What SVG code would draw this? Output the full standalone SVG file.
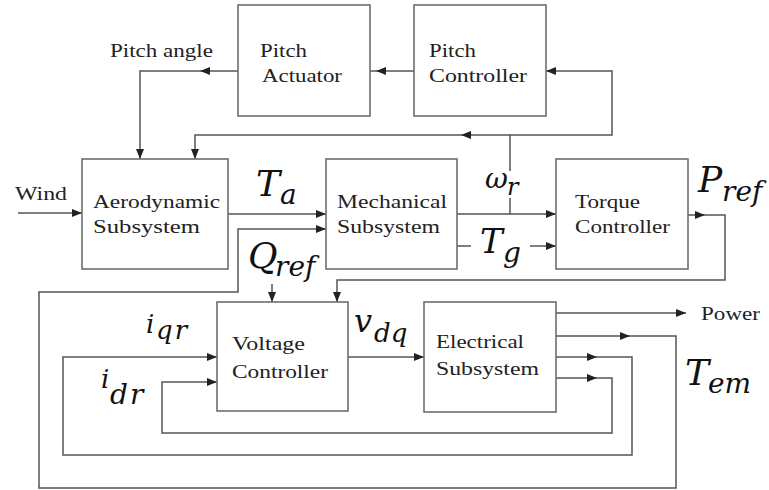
<svg xmlns="http://www.w3.org/2000/svg" xmlns:xlink="http://www.w3.org/1999/xlink" width="769" height="490" viewBox="0 0 769 490">
<style>
.box{fill:#fff;stroke:#6e6e6e;stroke-width:1.6}
.ln{fill:none;stroke:#555;stroke-width:1.5}
.lbl{font-family:"Liberation Serif","Times New Roman",serif;font-size:19px;fill:#222}
.math{font-family:"DejaVu Serif",serif;font-style:italic;fill:#111}
.ah{fill:#222}
</style>
<defs>
<marker id="arr" markerWidth="10" markerHeight="8" refX="10" refY="4" orient="auto" markerUnits="userSpaceOnUse"><path d="M0,0 L10,4 L0,8 Z" fill="#222"/></marker>
<path id="ah" d="M0,0 L-10,-4 L-10,4 Z"/>
</defs>
<rect width="769" height="490" fill="#fff"/>

<g id="connectors">
<path class="ln" d="M414,71 H370"/>
<path class="ln" d="M238,71 H140 V159" marker-end="url(#arr)"/>
<path class="ln" d="M510,214 V198"/>
<path class="ln" d="M510,171 V135 H612 V71 H546" marker-end="url(#arr)"/>
<path class="ln" d="M510,135 H195 V159" marker-end="url(#arr)"/>
<path class="ln" d="M18,213 H82" marker-end="url(#arr)"/>
<path class="ln" d="M228,214 H326" marker-end="url(#arr)"/>
<path class="ln" d="M457,214 H556" marker-end="url(#arr)"/>
<path class="ln" d="M457,246 H471"/>
<path class="ln" d="M530,246 H556" marker-end="url(#arr)"/>
<path class="ln" d="M688,215 H725 V280 H337 V302" marker-end="url(#arr)"/>
<path class="ln" d="M272,284 V302" marker-end="url(#arr)"/>
<path class="ln" d="M556,336 H676 V488 H39 V292 H238 V229 H326" marker-end="url(#arr)"/>
<path class="ln" d="M556,313 H686" marker-end="url(#arr)"/>
<path class="ln" d="M348,357 H424" marker-end="url(#arr)"/>
<path class="ln" d="M556,357 H632 V455 H63 V357 H217" marker-end="url(#arr)"/>
<path class="ln" d="M556,378 H612 V433 H162 V382 H217" marker-end="url(#arr)"/>
<use xlink:href="#ah" class="ah" transform="translate(376,71) rotate(180)"/>
<use xlink:href="#ah" class="ah" transform="translate(200,71) rotate(180)"/>
<use xlink:href="#ah" class="ah" transform="translate(461,135) rotate(180)"/>
<use xlink:href="#ah" class="ah" transform="translate(705,215)"/>
<use xlink:href="#ah" class="ah" transform="translate(630,336)"/>
<use xlink:href="#ah" class="ah" transform="translate(597,357)"/>
<use xlink:href="#ah" class="ah" transform="translate(597,378)"/>
</g>

<g id="pitch-actuator">
<rect class="box" x="238" y="5" width="132" height="111"/>
<text class="lbl" x="260" y="57" textLength="47" lengthAdjust="spacingAndGlyphs">Pitch</text>
<text class="lbl" x="262" y="82" textLength="80" lengthAdjust="spacingAndGlyphs">Actuator</text>
</g>
<g id="pitch-controller">
<rect class="box" x="414" y="5" width="132" height="111"/>
<text class="lbl" x="429" y="57" textLength="47" lengthAdjust="spacingAndGlyphs">Pitch</text>
<text class="lbl" x="429" y="82" textLength="98" lengthAdjust="spacingAndGlyphs">Controller</text>
</g>
<g id="aerodynamic-subsystem">
<rect class="box" x="82" y="159" width="146" height="110"/>
<text class="lbl" x="93" y="208" textLength="127" lengthAdjust="spacingAndGlyphs">Aerodynamic</text>
<text class="lbl" x="93" y="233" textLength="107" lengthAdjust="spacingAndGlyphs">Subsystem</text>
</g>
<g id="mechanical-subsystem">
<rect class="box" x="326" y="159" width="131" height="110"/>
<text class="lbl" x="337" y="208" textLength="110" lengthAdjust="spacingAndGlyphs">Mechanical</text>
<text class="lbl" x="337" y="233" textLength="103" lengthAdjust="spacingAndGlyphs">Subsystem</text>
</g>
<g id="torque-controller">
<rect class="box" x="556" y="159" width="132" height="110"/>
<text class="lbl" x="575" y="208" textLength="65" lengthAdjust="spacingAndGlyphs">Torque</text>
<text class="lbl" x="575" y="233" textLength="95" lengthAdjust="spacingAndGlyphs">Controller</text>
</g>
<g id="voltage-controller">
<rect class="box" x="217" y="302" width="131" height="109"/>
<text class="lbl" x="232" y="350" textLength="73" lengthAdjust="spacingAndGlyphs">Voltage</text>
<text class="lbl" x="232" y="378" textLength="96" lengthAdjust="spacingAndGlyphs">Controller</text>
</g>
<g id="electrical-subsystem">
<rect class="box" x="424" y="302" width="132" height="110"/>
<text class="lbl" x="436" y="348" textLength="88" lengthAdjust="spacingAndGlyphs">Electrical</text>
<text class="lbl" x="436" y="375" textLength="103" lengthAdjust="spacingAndGlyphs">Subsystem</text>
</g>

<g id="labels">
<text class="lbl" x="110" y="57" textLength="103" lengthAdjust="spacingAndGlyphs">Pitch angle</text>
<text class="lbl" x="15" y="200" textLength="52" lengthAdjust="spacingAndGlyphs">Wind</text>
<text class="lbl" x="701" y="320" textLength="59" lengthAdjust="spacingAndGlyphs">Power</text>
<text class="math"><tspan x="256" y="196" font-size="36">T</tspan><tspan x="280" y="204" font-size="28">a</tspan></text>
<text class="math"><tspan x="485" y="188" font-size="28">ω</tspan><tspan x="507" y="195" font-size="24">r</tspan></text>
<text class="math"><tspan x="480" y="253" font-size="34">T</tspan><tspan x="503" y="262" font-size="28">g</tspan></text>
<text class="math"><tspan x="698" y="192" font-size="36">P</tspan><tspan x="722" y="201" font-size="28">ref</tspan></text>
<text class="math"><tspan x="248" y="268" font-size="36">Q</tspan><tspan x="275" y="276" font-size="28">ref</tspan></text>
<text class="math"><tspan x="146" y="333" font-size="26">i</tspan><tspan x="156" y="339" font-size="26" letter-spacing="2">qr</tspan></text>
<text class="math"><tspan x="101" y="388" font-size="26">i</tspan><tspan x="110" y="404" font-size="28" letter-spacing="2">dr</tspan></text>
<text class="math"><tspan x="354" y="332" font-size="32">v</tspan><tspan x="374" y="342" font-size="26">dq</tspan></text>
<text class="math"><tspan x="685" y="385" font-size="36">T</tspan><tspan x="708" y="393" font-size="28">em</tspan></text>
</g>
</svg>
